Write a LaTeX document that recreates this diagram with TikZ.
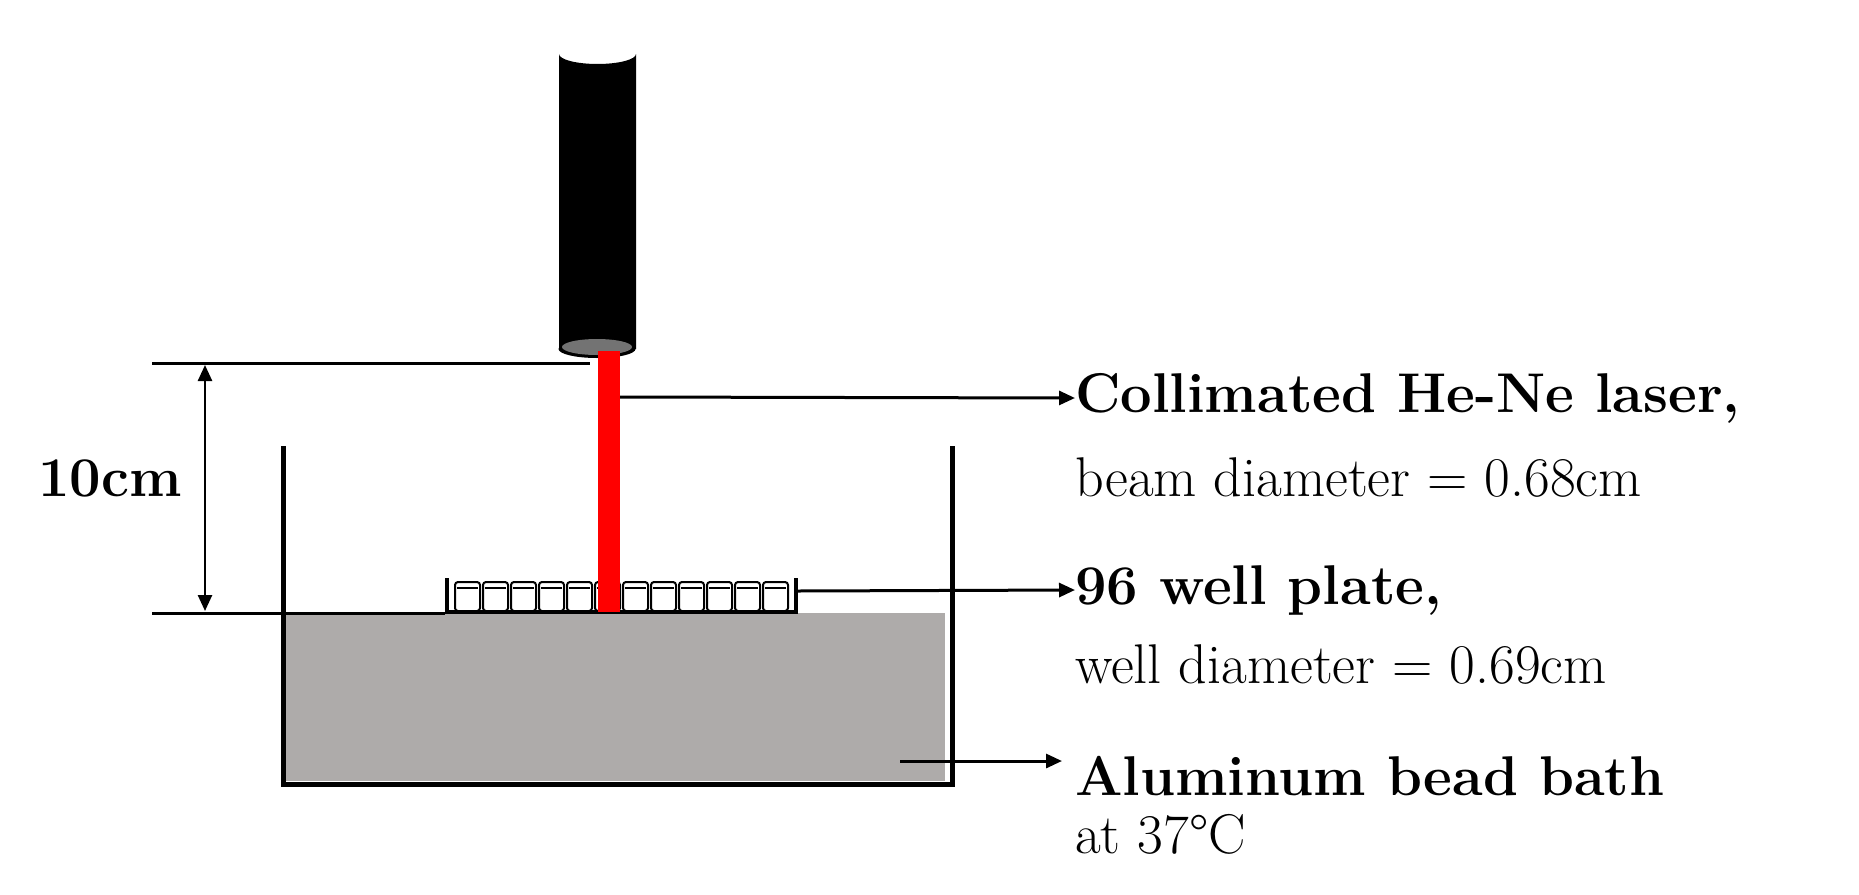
\documentclass[tikz,border=0pt]{standalone}
\usetikzlibrary{arrows.meta}
\begin{document}
\begin{tikzpicture}[x=1pt,y=-1pt,
  ln/.style={line width=3pt},
  arr/.style={line width=3pt,-{Triangle[length=16pt,width=14pt]}},
  lbl/.style={anchor=west,inner sep=0pt,font=\fontsize{56}{66}\selectfont},
  well/.style={draw,line width=2pt,fill=white,rounded corners=3pt}]
\useasboundingbox (0,0) rectangle (1859,894);
% bath
\fill[fill={rgb,255:red,174;green,171;blue,170}] (286,613) rectangle (945,781);
\draw[line width=5pt] (283,446) -- (283,784) -- (952,784) -- (952,446);
% reference lines
\draw[ln] (152,363) -- (590,363);
\draw[ln] (152,613) -- (445,613);
\draw[line width=2.5pt,{Triangle[length=16pt,width=14pt]}-{Triangle[length=16pt,width=14pt]}] (205,365) -- (205,611);
\node[font=\bfseries\fontsize{56}{66}\selectfont] (dim) at (110,478) {10cm};
% laser
\fill[black] (559,349) -- (559,54) arc[start angle=180,end angle=0,x radius=38.5,y radius=10] -- (636,349) -- cycle;
\fill[black] (597,349) ellipse[x radius=38.5,y radius=9];
\fill[gray!90!black] (597,347) ellipse[x radius=35,y radius=8];
% wells
\foreach \i in {0,...,11}{
  \draw[well] (455+\i*28,582) rectangle (480+\i*28,611);
  \draw[line width=1.5pt] (457+\i*28,588) -- (478+\i*28,588);
}
\draw[line width=4pt] (445,612) -- (798,612);
\draw[line width=4pt] (447,578) -- (447,612);
\draw[line width=4pt] (796,578) -- (796,612);
% beam
\fill[red] (598,351) rectangle (620,612);
% arrows
\coordinate (b1) at (620,397);
\coordinate (b2) at (798,591);
\coordinate (b3) at (900,761);
\node[lbl] (t1) at (1075,398) {\bfseries Collimated He-Ne laser,};
\node[lbl] (t2) at (1075,478) {beam diameter = 0.68cm};
\node[lbl] (t3) at (1075,590) {\bfseries 96 well plate,};
\node[lbl] (t4) at (1075,665) {well diameter = 0.69cm};
\node[lbl] (t5) at (1075,776) {\bfseries Aluminum bead bath};
\node[lbl] (t6) at (1075,834) {at 37\textdegree C};
\draw[arr] (b1) -- (t1.west);
\draw[arr] (b2) -- (t3.west);
\draw[arr] (b3) -- (1062,761);
\end{tikzpicture}
\end{document}
